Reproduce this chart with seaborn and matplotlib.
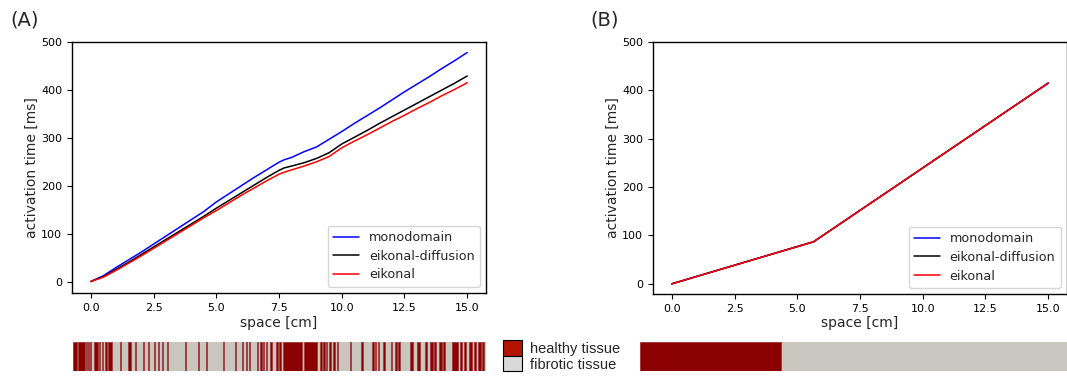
import numpy as np
import pandas as pd
import matplotlib
matplotlib.use("Agg")
import matplotlib.pyplot as plt
from matplotlib.patches import Patch
import seaborn as sns

# ---------------- data ----------------
space_a = [0, 0.5, 1, 1.5, 2, 2.5, 3, 3.5, 4, 4.5, 5, 5.5, 6, 6.5, 7, 7.5, 7.7, 8,
           8.5, 9, 9.5, 10, 10.5, 11, 11.5, 12, 12.5, 13, 13.5, 14, 14.5, 15]
mono_a = [0, 12, 29, 45, 61, 78, 95, 112, 129, 146, 166, 183, 200, 217, 233, 249, 254,
          259, 271, 281, 297, 313, 330, 346, 362, 379, 396, 412, 428, 445, 461, 478]
eikdiff_a = [0, 10, 25, 40, 56, 72, 88, 104, 120, 136, 153, 169, 185, 201, 217, 232, 237,
             241, 248, 257, 269, 287, 301, 315, 330, 344, 358, 372, 386, 400, 414, 429]
eik_a = [0, 9, 23, 38, 53, 69, 85, 101, 117, 133, 148, 164, 180, 195, 210, 224, 228,
         233, 241, 250, 261, 279, 293, 306, 320, 334, 347, 361, 374, 388, 401, 415]

space_b = [0, 5.65, 15]
mono_b = [0, 87, 415]
eikdiff_b = [0, 87, 415]
eik_b = [0, 87, 415]

series_names = ["monodomain", "eikonal-diffusion", "eikonal"]
series_colors = ["#0000ff", "#000000", "#ff0000"]

# healthy-tissue stripes in the fibrotic strip of panel A (start, end) in cm
healthy_a = [(0.00, 0.15), (0.18, 0.44), (0.47, 0.51), (0.54, 0.58), (0.62, 0.65),
             (0.76, 0.91), (0.94, 0.98), (1.05, 1.09), (1.16, 1.23), (1.27, 1.42),
             (1.71, 1.74), (2.00, 2.11), (2.25, 2.29), (2.54, 2.58), (2.72, 2.76),
             (2.94, 2.98), (3.09, 3.12), (3.23, 3.27), (3.41, 3.45), (4.07, 4.10),
             (4.54, 4.58), (4.83, 4.87), (5.45, 5.48), (5.88, 5.92), (6.14, 6.17),
             (6.28, 6.32), (6.39, 6.43), (6.68, 6.72), (6.79, 6.86), (6.90, 6.94),
             (7.01, 7.05), (7.15, 7.23), (7.37, 7.45), (7.48, 7.55), (7.63, 8.32),
             (8.39, 8.86), (8.97, 9.04), (9.08, 9.15), (9.19, 9.23), (9.30, 9.37),
             (9.44, 9.52), (9.59, 9.62), (10.06, 10.10), (10.46, 10.53), (10.86, 10.93),
             (10.97, 11.00), (11.08, 11.11), (11.26, 11.33), (11.55, 11.59), (11.69, 11.77),
             (11.80, 11.88), (12.24, 12.35), (12.49, 12.60), (12.78, 12.86), (12.97, 13.08),
             (13.11, 13.18), (13.29, 13.40), (13.44, 13.51), (13.77, 13.98), (14.06, 14.13),
             (14.20, 14.27), (14.38, 14.49), (14.56, 14.64), (14.71, 14.82), (14.85, 14.93)]
healthy_b = [(0.0, 4.95)]
strip_length = 15.0

tissue_labels = ["healthy tissue", "fibrotic tissue"]
healthy_color = "#8b0000"
healthy_edge = "#a33a3a"
fibrotic_color = "#c8c6bf"
legend_healthy = "#b31400"
legend_fibrotic = "#d8d8d8"

# ---------------- style ----------------
sns.set_style("ticks")
plt.rcParams["font.family"] = ["DejaVu Sans"]
plt.rcParams["axes.edgecolor"] = "black"
plt.rcParams["xtick.color"] = "black"
plt.rcParams["ytick.color"] = "black"
plt.rcParams["axes.linewidth"] = 1.0

W, H = 1067, 377
fig = plt.figure(figsize=(W / 100, H / 100), dpi=100)


def fax(x0, y0, x1, y1):
    return fig.add_axes([x0 / W, 1 - y1 / H, (x1 - x0) / W, (y1 - y0) / H])


ax_a = fax(72, 42, 486, 293)
ax_b = fax(653, 42, 1067, 294)


def draw_panel(ax, xs, ys_list, ylim_low):
    for name, col, ys in zip(series_names, series_colors, ys_list):
        df = pd.DataFrame({"space": xs, "t": ys})
        sns.lineplot(data=df, x="space", y="t", color=col, label=name, ax=ax,
                     linewidth=1.1, sort=False)
    ax.set_xlim(-0.75, 15.75)
    ax.set_ylim(ylim_low, 500)
    ax.set_xticks([0, 2.5, 5, 7.5, 10, 12.5, 15])
    ax.set_xticklabels(["0.0", "2.5", "5.0", "7.5", "10.0", "12.5", "15.0"])
    ax.set_yticks([0, 100, 200, 300, 400, 500])
    ax.tick_params(labelsize=8, length=3.5, width=0.8)
    ax.set_xlabel("space [cm]", fontsize=10, labelpad=2)
    ax.set_ylabel("activation time [ms]", fontsize=10, labelpad=2)
    ax.legend(loc="lower right", fontsize=9.2, frameon=True, handlelength=2.0,
              borderaxespad=0.5, labelspacing=0.45)


draw_panel(ax_a, space_a, [mono_a, eikdiff_a, eik_a], -24)
draw_panel(ax_b, space_b, [mono_b, eikdiff_b, eik_b], -21)

fig.text(10 / W, 1 - 20 / H, "(A)", fontsize=14, va="center", ha="left")
fig.text(590 / W, 1 - 20 / H, "(B)", fontsize=14, va="center", ha="left")

# ---------------- tissue strips ----------------
def draw_strip(ax, segs):
    ax.barh([0], [strip_length], left=[0], height=1.0, color=fibrotic_color,
            edgecolor="none")
    ax.barh([0] * len(segs), [e - s for s, e in segs], left=[s for s, e in segs],
            height=1.0, color=healthy_color, edgecolor=healthy_edge, linewidth=0.6)
    ax.set_xlim(0, strip_length)
    ax.set_ylim(-0.5, 0.5)
    ax.axis("off")


strip_a = fax(73, 342, 486, 371)
draw_strip(strip_a, healthy_a)
strip_b = fax(640, 342, 1067, 371)
draw_strip(strip_b, healthy_b)

handles = [Patch(facecolor=legend_healthy, edgecolor="black", linewidth=0.8),
           Patch(facecolor=legend_fibrotic, edgecolor="black", linewidth=0.8)]
fig.legend(handles, tissue_labels, loc="center left",
           bbox_to_anchor=(503 / W, 1 - 356 / H), frameon=False,
           prop={"family": "Liberation Sans", "size": 10.5},
           handlelength=1.3, handleheight=1.25, handletextpad=0.55,
           labelspacing=0.0, borderpad=0.0, borderaxespad=0.0)

fig.savefig("out.png", dpi=100)
